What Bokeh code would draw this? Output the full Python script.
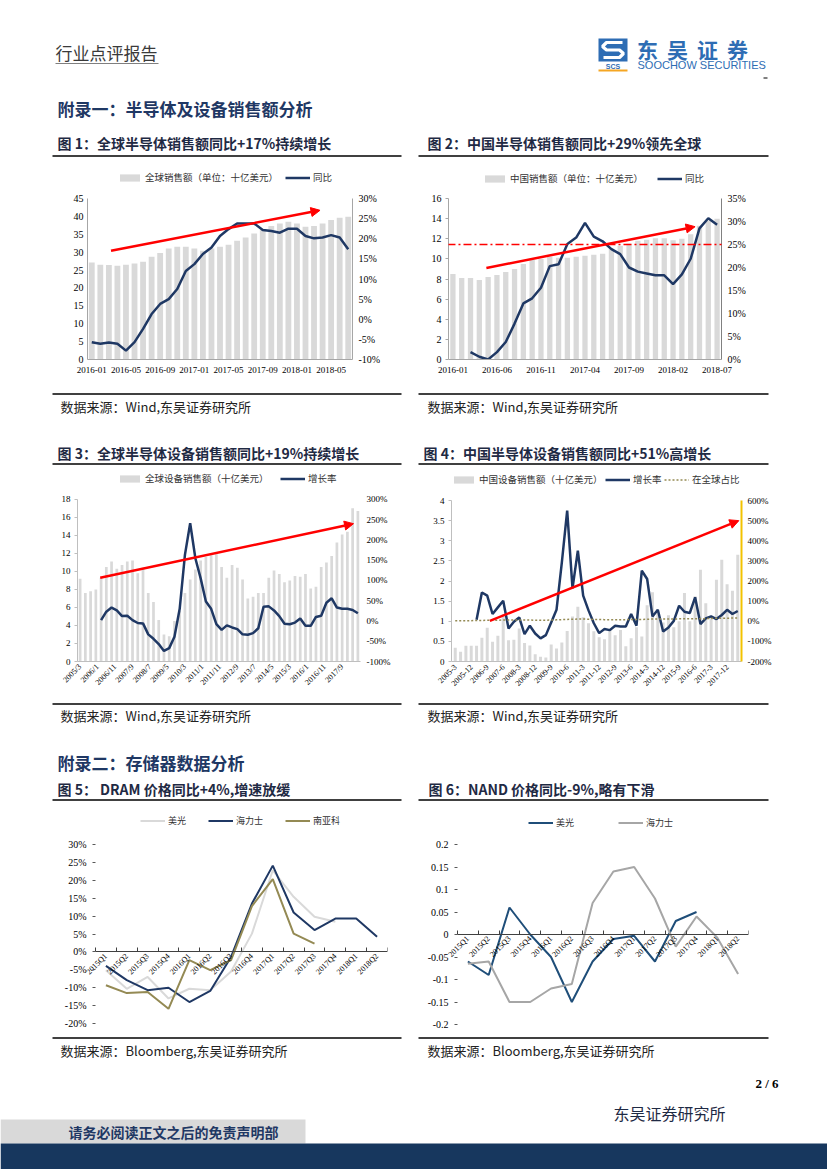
import math
import numpy as np
from bokeh.plotting import figure
from bokeh.layouts import column, row
from bokeh.models import (Range1d, LinearAxis, FixedTicker, NumeralTickFormatter,
                          PrintfTickFormatter, Legend, LegendItem, Arrow, NormalHead)
from bokeh.core.properties import value
from bokeh.embed import file_html
from bokeh.resources import INLINE

NaN = float("nan")
CJK = "Noto Sans CJK SC"
SERIF = "Liberation Serif"
NAVY = "#1F3864"
BAR = "#D9D9D9"
AXIS = "#A6A6A6"
RED = "#FF0000"
TITLE = "#1F2A44"

# ---------------- DATA ----------------
# Fig 1: global semiconductor sales (bn USD) and YoY (%)
c1_months = [f"{y}-{m:02d}" for y in (2016, 2017, 2018) for m in range(1, 13)][:31]
c1_sales = [27.1, 26.5, 26.4, 26.2, 26.5, 26.8, 27.3, 28.7, 29.8, 31.0, 31.5, 31.5,
            31.0, 30.4, 31.0, 31.5, 32.1, 33.2, 34.1, 35.2, 36.2, 37.3, 38.0, 38.5,
            38.0, 37.1, 37.3, 38.0, 39.0, 39.6, 39.9]
c1_yoy = [-5.7, -6.1, -5.8, -6.1, -7.8, -5.7, -2.4, 1.3, 3.8, 5.0, 7.5, 12.0,
          13.7, 16.2, 17.8, 20.7, 22.4, 23.8, 23.8, 23.8, 22.2, 21.9, 21.5, 22.5,
          22.5, 20.7, 20.1, 20.3, 20.9, 20.3, 17.4]
c1_xlabels = ["2016-01", "2016-05", "2016-09", "2017-01", "2017-05", "2017-09", "2018-01", "2018-05"]
c1_left_ticks = [0, 5, 10, 15, 20, 25, 30, 35, 40, 45]
c1_right_ticks = [-10, -5, 0, 5, 10, 15, 20, 25, 30]
c1_legend = ["全球销售额（单位：十亿美元）", "同比"]
c1_arrow = (2.25, 30.4, 26.7, 41.7)

# Fig 2: China semiconductor sales (bn USD) and YoY (%)
c2_months = list(c1_months)
c2_sales = [8.5, 8.1, 8.1, 7.9, 8.2, 8.4, 8.7, 9.0, 9.5, 9.9, 10.0, 10.2,
            10.1, 10.1, 10.2, 10.3, 10.4, 10.5, 11.0, 11.3, 11.5, 11.8, 11.9, 12.05,
            12.05, 11.85, 12.0, 12.45, 13.3, 13.8, 14.0]
c2_yoy = [NaN, NaN, 1.6, 0.6, 0.0, 1.6, 3.8, 7.8, 12.2, 13.3, 15.6, 20.3,
          20.7, 25.1, 26.5, 29.7, 26.7, 25.7, 24.0, 22.9, 20.0, 19.1, 18.7, 18.3,
          18.3, 16.4, 18.5, 21.9, 28.5, 30.7, 29.3]
c2_xlabels = ["2016-01", "2016-06", "2016-11", "2017-04", "2017-09", "2018-02", "2018-07"]
c2_left_ticks = [0, 2, 4, 6, 8, 10, 12, 14, 16]
c2_right_ticks = [0, 5, 10, 15, 20, 25, 30, 35]
c2_legend = ["中国销售额（单位：十亿美元）", "同比"]
c2_ref_level = 25
c2_arrow = (3.8, 9.1, 27.5, 13.2)

# Fig 3: global semiconductor equipment sales (bn USD, quarterly) and growth (%)
c3_quarters = [f"{y}Q{q}" for y in range(2005, 2019) for q in range(1, 5)][:54]
c3_sales = [9.2, 7.6, 7.8, 8.0, 9.3, 10.5, 11.1, 10.3, 10.7, 11.1, 11.2, 9.8,
            10.4, 7.6, 6.6, 4.6, 3.0, 2.8, 4.5, 5.6, 7.6, 9.1, 10.2, 11.2,
            11.6, 11.8, 11.9, 10.5, 9.3, 10.7, 10.4, 9.1, 7.0, 7.2, 7.6, 7.6,
            9.3, 10.1, 9.7, 8.8, 9.0, 9.5, 9.4, 9.7, 8.1, 8.3, 10.5, 11.0,
            11.7, 13.2, 14.1, 14.4, 17.0, 16.7]
c3_growth = [NaN, NaN, NaN, NaN,
             2, 23, 33, 26, 12, 13, 2, -5, -6, -33, -44, -57, -74, -67, -39, 30,
             163, 241, 154, 105, 48, 30, -8, -22, -11, -16, -20, -33, -34, -30, -18, 35,
             36, 26, 12, -7, -8, -4, 6, -12, -12, 10, 13, 45, 56, 33, 30, 30, 27, 19]
c3_xlabels = ["2005/3", "2006/1", "2006/11", "2007/9", "2008/7", "2009/5", "2010/3", "2011/1",
              "2011/11", "2012/9", "2013/7", "2014/5", "2015/3", "2016/1", "2016/11", "2017/9"]
c3_left_ticks = [0, 2, 4, 6, 8, 10, 12, 14, 16, 18]
c3_right_ticks = [-100, -50, 0, 50, 100, 150, 200, 250, 300]
c3_legend = ["全球设备销售额（十亿美元）", "增长率"]
c3_arrow = (11.5, 9.3, 156.5, 15.3)

# Fig 4: China semiconductor equipment sales (bn USD), growth (%), share of global (%)
c4_quarters = list(c3_quarters)
c4_sales = [0.34, 0.24, 0.39, 0.39, 0.39, 0.59, 0.84, 0.49, 0.64, 1.18,
            0.53, 0.54, 0.82, 0.46, 0.40, 0.18, 0.12, 0.10, 0.42, 0.32,
            0.47, 0.76, 1.12, 1.36, 1.10, 0.95, 0.75, 0.60, 0.55, 0.78,
            0.65, 0.78, 0.38, 0.58, 0.85, 0.62, 1.40, 1.72, 1.20, 0.97,
            1.15, 0.85, 1.00, 1.70, 1.00, 1.62, 2.28, 1.45, 1.10, 2.03,
            2.53, 1.92, 1.76, 2.65]
c4_growth = [NaN, NaN, NaN, NaN,
             7, 143, 127, 36, 69, 102, -36, -2, 19, -64, -22, -61, -85, -69, -6, 57,
             293, 550, 163, 351, 127, 54, -10, -59, -39, -44, -22, -26, -26, 36, -22, 251,
             210, 24, 57, -51, -31, 2, 77, 47, 41, 119, -14, 14, 24, 11, 31, 57, 36, 51]
c4_share = [3, 3, 3, 3, 4, 4, 5, 5, 5, 6, 6, 6, 6, 6, 6, 5, 5, 5, 6, 7,
            8, 9, 10, 11, 11, 10, 9, 9, 8, 8, 8, 8, 8, 9, 9, 9, 10, 11, 11, 11,
            11, 11, 12, 12, 12, 13, 13, 13, 14, 15, 15, 15, 16, 16]
c4_xlabels = ["2005-3", "2005-12", "2006-9", "2007-6", "2008-3", "2008-12", "2009-9", "2010-6",
              "2011-3", "2011-12", "2012-9", "2013-6", "2014-3", "2014-12", "2015-9", "2016-6",
              "2017-3", "2017-12"]
c4_left_ticks = [0, 0.5, 1, 1.5, 2, 2.5, 3, 3.5, 4]
c4_right_ticks = [-200, -100, 0, 100, 200, 300, 400, 500, 600]
c4_legend = ["中国设备销售额（十亿美元）", "增长率", "在全球占比"]
c4_arrow = (6.5, 1.01, 53.2, 3.5)

# Fig 5: DRAM price YoY (%)
c5_quarters = ["2015Q1", "2015Q2", "2015Q3", "2015Q4", "2016Q1", "2016Q2", "2016Q3",
               "2016Q4", "2017Q1", "2017Q2", "2017Q3", "2017Q4", "2018Q1", "2018Q2"]
c5_micron = [-5.1, -10.3, -7.0, -13.0, -10.3, -10.7, -5.5, 5.1, 22.8, 15.4, 9.8, 8.4, NaN, NaN]
c5_hynix = [-3.9, -7.9, -10.7, -10.0, -14.0, -10.9, -1.4, 13.5, 24.1, 11.0, 6.1, 9.3, 9.3, 4.2]
c5_nanya = [-9.3, -11.5, -11.2, -15.9, -2.3, -5.1, -2.3, 12.8, 20.3, 5.1, 2.3, NaN, NaN, NaN]
c5_yticks = [-20, -15, -10, -5, 0, 5, 10, 15, 20, 25, 30]
c5_legend = ["美光", "海力士", "南亚科"]

# Fig 6: NAND price YoY
c6_quarters = list(c5_quarters)
c6_micron = [-0.06, -0.09, 0.06, 0.0, -0.05, -0.15, -0.06, -0.01, -0.003, -0.06, 0.03, 0.05, NaN, NaN]
c6_hynix = [-0.065, -0.06, -0.15, -0.15, -0.12, -0.11, 0.07, 0.14, 0.15, 0.08, -0.027, 0.04, -0.007, -0.088]
c6_yticks = [-0.2, -0.15, -0.1, -0.05, 0, 0.05, 0.1, 0.15, 0.2]
c6_legend = ["美光", "海力士"]

PAGE_W = 827


# ---------------- HELPERS ----------------
def band(top, bottom):
    p = figure(width=PAGE_W, height=bottom - top, x_range=Range1d(0, PAGE_W), y_range=Range1d(bottom, top),
               output_backend="svg", toolbar_location=None, x_axis_location=None,
               y_axis_location=None, min_border=0)
    p.grid.visible = False
    p.outline_line_color = None
    return p


def txt(p, x, y, s, size, color="#000000", font=CJK, bold=False, align="left"):
    p.text(x=[x], y=[y], text=[s], text_font=value(font), text_font_size=value(size),
           text_color=color, text_font_style="bold" if bold else "normal",
           text_align=align, text_baseline="middle")


def rules(p, y):
    p.segment(x0=[52, 418], y0=[y, y], x1=[401, 768], y1=[y, y], line_color="#000000", line_width=1.6)


def ext(lo, hi, g):
    """Range whose [lo, hi] maps onto [data_top, data_bot] px, with headroom around it."""
    fig_top, frame_top, data_top, data_bot, frame_bot, fig_bot = g
    ppu = (data_bot - data_top) / (hi - lo)
    return Range1d(lo - (frame_bot - data_bot) / ppu, hi + (data_top - frame_top) / ppu)


def chart(w, bl, br, g, xr, ylo, yhi):
    fig_top, frame_top, data_top, data_bot, frame_bot, fig_bot = g
    p = figure(width=w, height=fig_bot - fig_top, x_range=xr, y_range=ext(ylo, yhi, g),
               output_backend="svg", toolbar_location=None, min_border_left=bl, min_border_right=br,
               min_border_top=frame_top - fig_top, min_border_bottom=fig_bot - frame_bot)
    p.grid.visible = False
    p.outline_line_color = None
    p.yaxis[0].bounds = (ylo, yhi)
    return p


def style_axis(ax, size="10px", line_color=AXIS, tick_out=0, standoff=4):
    ax.axis_line_color = line_color
    ax.major_tick_out = tick_out
    ax.major_tick_in = 0
    ax.major_tick_line_color = line_color if tick_out else None
    ax.minor_tick_line_color = None
    ax.major_label_text_font = SERIF
    ax.major_label_text_font_size = size
    ax.major_label_text_color = "#000000"
    ax.major_label_standoff = standoff


def add_legend(p, g, label, renderer, x, y_center, size="9px"):
    """x: px from plot-area left; y_center: page px of the legend row."""
    frame_bot = g[4]
    lg = Legend(items=[LegendItem(label=label, renderers=[renderer])], location=(x, frame_bot - y_center - 5),
                orientation="horizontal", glyph_width=25, glyph_height=9, label_standoff=3,
                padding=0, margin=0, spacing=0, border_line_color=None, background_fill_alpha=0,
                label_text_font=CJK, label_text_font_size=size, label_height=10,
                label_text_color="#333333")
    p.add_layout(lg)


def add_arrow(p, a, size=9):
    p.add_layout(Arrow(end=NormalHead(size=size, fill_color=RED, line_color=RED),
                       x_start=a[0], y_start=a[1], x_end=a[2], y_end=a[3],
                       line_color=RED, line_width=2.5))


def two_axis(p, g, rlo, rhi, left_ticks, right_ticks, size, right_color=AXIS, right_fmt="%d%%",
             left_color=AXIS, left_tick_out=0, right_width=1):
    p.extra_y_ranges = {"r": ext(rlo, rhi, g)}
    ya = p.yaxis[0]
    style_axis(ya, size=size, line_color=left_color, tick_out=left_tick_out)
    ya.ticker = FixedTicker(ticks=left_ticks)
    ra = LinearAxis(y_range_name="r", ticker=FixedTicker(ticks=right_ticks),
                    formatter=PrintfTickFormatter(format=right_fmt), bounds=(rlo, rhi))
    style_axis(ra, size=size, line_color=right_color, tick_out=0, standoff=6)
    ra.axis_line_width = right_width
    p.add_layout(ra, "right")


def quarter_xrange(n, h):
    """Categories 0..n-1 between axis_left and area_right, with room on the left for labels."""
    area_left, axis_left, area_right = h
    ppu = (area_right - axis_left) / n
    return Range1d(-0.5 - (axis_left - area_left) / ppu, n - 0.5)


def quarter_axes(p, x, labels, yticks, yfmt):
    ya = p.yaxis[0]
    style_axis(ya, size="10px", line_color=None, tick_out=3)
    ya.major_tick_line_color = "#595959"
    ya.ticker = FixedTicker(ticks=yticks)
    ya.formatter = yfmt
    ya.major_label_standoff = 6
    ya.fixed_location = x[0] - 0.5
    ax = p.xaxis[0]
    style_axis(ax, size="8px", line_color="#404040", standoff=3)
    ax.fixed_location = 0
    ax.bounds = (x[0] - 0.5, x[-1] + 0.5)
    ax.ticker = FixedTicker(ticks=x, minor_ticks=[i - 0.5 for i in range(len(x) + 1)])
    ax.major_label_overrides = dict(zip(x, labels))
    ax.major_label_orientation = math.pi / 4
    ax.minor_tick_line_color = "#404040"
    ax.minor_tick_in = 4
    ax.minor_tick_out = 0


# vertical geometry in page px:
# (figure top, plot-area top, value-axis top, value-axis bottom, plot-area bottom, figure bottom)
G1 = (157, 170, 198, 359, 359, 392)
G2 = (157, 170, 198, 359, 359, 392)
G3 = (465, 471, 499, 662, 662, 702)
G4 = (465, 471, 500, 661, 661, 702)
G5 = (802, 812, 844, 1023, 1031, 1036)
G6 = (802, 812, 844, 1024, 1031, 1036)
# horizontal geometry of fig 5/6 (plot-area left, category-axis left, right) in page px
H5 = (55, 95, 387)
H6 = (417, 457, 748)

# ---------------- FIG 1 ----------------
x1 = list(range(len(c1_months)))
p1 = chart(407, 87, 55, G1, Range1d(-0.5, len(c1_months) - 0.5), 0, 45)
two_axis(p1, G1, -10, 30, c1_left_ticks, c1_right_ticks, "10px")
b1 = p1.vbar(x=x1, top=c1_sales, width=0.68, fill_color=BAR, line_color=None)
l1 = p1.line(x=x1, y=c1_yoy, y_range_name="r", line_color=NAVY, line_width=2.5)
style_axis(p1.xaxis[0], size="9px", standoff=7)
p1.xaxis.ticker = FixedTicker(ticks=[c1_months.index(s) for s in c1_xlabels])
p1.xaxis.major_label_overrides = {c1_months.index(s): s for s in c1_xlabels}
add_arrow(p1, c1_arrow)
add_legend(p1, G1, c1_legend[0], b1, 30, 179, size="9.5px")
add_legend(p1, G1, c1_legend[1], l1, 198, 179, size="9.5px")

# ---------------- FIG 2 ----------------
x2 = list(range(len(c2_months)))
p2 = chart(420, 41, 106, G2, Range1d(-0.5, len(c2_months) - 0.5), 0, 16)
two_axis(p2, G2, 0, 35, c2_left_ticks, c2_right_ticks, "10px", right_color="#808080", left_tick_out=3)
b2 = p2.vbar(x=x2, top=c2_sales, width=0.6, fill_color=BAR, line_color=None)
l2 = p2.line(x=x2, y=np.array(c2_yoy), y_range_name="r", line_color=NAVY, line_width=2.5)
style_axis(p2.xaxis[0], size="9px", standoff=7)
p2.xaxis.ticker = FixedTicker(ticks=[c2_months.index(s) for s in c2_xlabels])
p2.xaxis.major_label_overrides = {c2_months.index(s): s for s in c2_xlabels}
p2.add_layout(Arrow(end=None, x_start=-4.25, x_end=33.6, y_start=c2_ref_level, y_end=c2_ref_level,
                    y_range_name="r", line_color=RED, line_width=1.6, line_dash="8 3 2 3"))
add_arrow(p2, c2_arrow)
add_legend(p2, G2, c2_legend[0], b2, 34, 180, size="9.5px")
add_legend(p2, G2, c2_legend[1], l2, 209, 180, size="9.5px")

# ---------------- FIG 3 ----------------
x3 = [3 * i for i in range(len(c3_quarters))]           # months since 2005/3
x3_ticks = [10 * i for i in range(len(c3_xlabels))]     # label every 10 months
p3 = chart(407, 77, 47, G3, Range1d(-1.5, x3[-1] + 1.5), 0, 18)
two_axis(p3, G3, -100, 300, c3_left_ticks, c3_right_ticks, "9px", right_color=None,
         left_color="#BFBFBF", left_tick_out=3)
b3 = p3.vbar(x=x3, top=c3_sales, width=1.55, fill_color=BAR, line_color=None)
l3 = p3.line(x=x3, y=np.array(c3_growth, dtype=float), y_range_name="r", line_color=NAVY, line_width=2.5)
style_axis(p3.xaxis[0], size="8px", line_color="#BFBFBF", standoff=4)
p3.xaxis.ticker = FixedTicker(ticks=x3_ticks)
p3.xaxis.major_label_overrides = dict(zip(x3_ticks, c3_xlabels))
p3.xaxis.major_label_orientation = math.pi / 4
add_arrow(p3, c3_arrow)
add_legend(p3, G3, c3_legend[0], b3, 40, 481, size="9.5px")
add_legend(p3, G3, c3_legend[1], l3, 203, 481, size="9.5px")

# ---------------- FIG 4 ----------------
x4 = list(range(len(c4_quarters)))
p4 = chart(420, 44, 86, G4, Range1d(-0.7, len(c4_quarters) - 0.3), 0, 4)
two_axis(p4, G4, -200, 600, c4_left_ticks, c4_right_ticks, "9px", right_color="#F2C200",
         left_color="#BFBFBF", left_tick_out=3, right_width=2)
p4.yaxis[0].formatter = NumeralTickFormatter(format="0.[0]")
b4 = p4.vbar(x=x4, top=c4_sales, width=0.56, fill_color=BAR, line_color=None)
l4 = p4.line(x=x4, y=np.array(c4_growth, dtype=float), y_range_name="r", line_color=NAVY, line_width=2.5)
s4 = p4.line(x=x4, y=c4_share, y_range_name="r", line_color="#948A54", line_width=1.5, line_dash="2 2")
style_axis(p4.xaxis[0], size="8px", line_color="#BFBFBF", standoff=4)
x4_ticks = [c4_quarters.index(f"{s.split('-')[0]}Q{int(s.split('-')[1]) // 3}") for s in c4_xlabels]
p4.xaxis.ticker = FixedTicker(ticks=x4_ticks)
p4.xaxis.major_label_overrides = dict(zip(x4_ticks, c4_xlabels))
p4.xaxis.major_label_orientation = math.pi / 4
add_arrow(p4, c4_arrow)
add_legend(p4, G4, c4_legend[0], b4, 0, 481, size="9.5px")
add_legend(p4, G4, c4_legend[1], l4, 154, 481, size="9.5px")
add_legend(p4, G4, c4_legend[2], s4, 213, 481, size="9.5px")

# ---------------- FIG 5 ----------------
x5 = list(range(len(c5_quarters)))
p5 = chart(407, H5[0], 407 - H5[2], G5, quarter_xrange(len(x5), H5), -20, 30)
m5 = p5.line(x=x5, y=np.array(c5_micron), line_color="#D9D9D9", line_width=2)
h5 = p5.line(x=x5, y=c5_hynix, line_color=NAVY, line_width=2)
n5 = p5.line(x=x5, y=np.array(c5_nanya), line_color="#948A54", line_width=2)
quarter_axes(p5, x5, c5_quarters, c5_yticks, PrintfTickFormatter(format="%d%%"))
add_legend(p5, G5, c5_legend[0], m5, 140 - H5[0], 822)
add_legend(p5, G5, c5_legend[1], h5, 208 - H5[0], 822)
add_legend(p5, G5, c5_legend[2], n5, 285 - H5[0], 822)

# ---------------- FIG 6 ----------------
x6 = list(range(len(c6_quarters)))
p6 = chart(420, H6[0] - 407, 827 - H6[2], G6, quarter_xrange(len(x6), H6), -0.2, 0.2)
m6 = p6.line(x=x6, y=np.array(c6_micron), line_color="#1F4E79", line_width=2)
h6 = p6.line(x=x6, y=c6_hynix, line_color="#A6A6A6", line_width=2)
quarter_axes(p6, x6, c6_quarters, c6_yticks, NumeralTickFormatter(format="0.[00]"))
add_legend(p6, G6, c6_legend[0], m6, 528 - H6[0], 824)
add_legend(p6, G6, c6_legend[1], h6, 618 - H6[0], 824)

# ---------------- PAGE BANDS ----------------
A = band(0, 157)
txt(A, 55, 52, "行业点评报告", "17px", color="#3A3A3A")
A.segment(x0=[55], y0=[63], x1=[158], y1=[63], line_color="#7F7F7F", line_width=1)
A.quad(left=[598], right=[627], top=[38], bottom=[61], fill_color="#2E6DB4", line_color=None)
A.line(x=[622, 606, 602, 606, 619, 623, 619, 603], y=[42, 42, 46, 49.5, 49.5, 53, 57, 57],
       line_color="white", line_width=3.2)
txt(A, 612.5, 65.5, "SCS", "7px", color="#2E6DB4", font="Liberation Sans", bold=True, align="center")
A.segment(x0=[598], y0=[70], x1=[627], y1=[70], line_color="#F5A623", line_width=2)
for i, ch in enumerate("东吴证券"):
    txt(A, 647 + 30 * i, 48.5, ch, "21px", color="#2E6DB4", bold=True, align="center")
txt(A, 637, 64.5, "SOOCHOW SECURITIES", "11px", color="#2E6DB4", font="Liberation Sans")
A.segment(x0=[763], y0=[77.5], x1=[767], y1=[77.5], line_color="#000000", line_width=1)
txt(A, 57, 108, "附录一：半导体及设备销售额分析", "17px", color=NAVY, bold=True)
txt(A, 57, 142, "图 1：全球半导体销售额同比+17%持续增长", "14px", color=TITLE, bold=True)
txt(A, 427, 142, "图 2：中国半导体销售额同比+29%领先全球", "14px", color=TITLE, bold=True)
rules(A, 155.5)

B = band(392, 465)
rules(B, 393.5)
txt(B, 60, 406, "数据来源：Wind,东吴证券研究所", "13px", color="#222222")
txt(B, 427, 406, "数据来源：Wind,东吴证券研究所", "13px", color="#222222")
txt(B, 57, 452, "图 3：全球半导体设备销售额同比+19%持续增长", "14px", color=TITLE, bold=True)
txt(B, 423, 452, "图 4：中国半导体设备销售额同比+51%高增长", "14px", color=TITLE, bold=True)
rules(B, 463.5)

C = band(702, 802)
rules(C, 703.5)
txt(C, 60, 715, "数据来源：Wind,东吴证券研究所", "13px", color="#222222")
txt(C, 427, 715, "数据来源：Wind,东吴证券研究所", "13px", color="#222222")
txt(C, 57, 762, "附录二：存储器数据分析", "17px", color=NAVY, bold=True)
txt(C, 57, 788, "图 5：  DRAM 价格同比+4%,增速放缓", "14px", color=TITLE, bold=True)
txt(C, 428, 788, "图 6：NAND 价格同比-9%,略有下滑", "14px", color=TITLE, bold=True)
rules(C, 799.5)

D = band(1036, 1169)
rules(D, 1037.5)
txt(D, 60, 1050, "数据来源：Bloomberg,东吴证券研究所", "13px", color="#222222")
txt(D, 427, 1050, "数据来源：Bloomberg,东吴证券研究所", "13px", color="#222222")
txt(D, 778, 1083, "2 / 6", "13px", color="#000000", font=SERIF, bold=True, align="right")
txt(D, 613, 1112, "东吴证券研究所", "16px", color=TITLE)
D.quad(left=[0], right=[305], top=[1119], bottom=[1143], fill_color="#D9D9D9", line_color=None)
D.quad(left=[0], right=[PAGE_W], top=[1143], bottom=[1169], fill_color="#17375E", line_color=None)
txt(D, 68, 1131.5, "请务必阅读正文之后的免责声明部", "14px", color=NAVY, bold=True)

layout = column(A, row(p1, p2), B, row(p3, p4), C, row(p5, p6), D)
open("out.html", "w").write(file_html(layout, INLINE))
